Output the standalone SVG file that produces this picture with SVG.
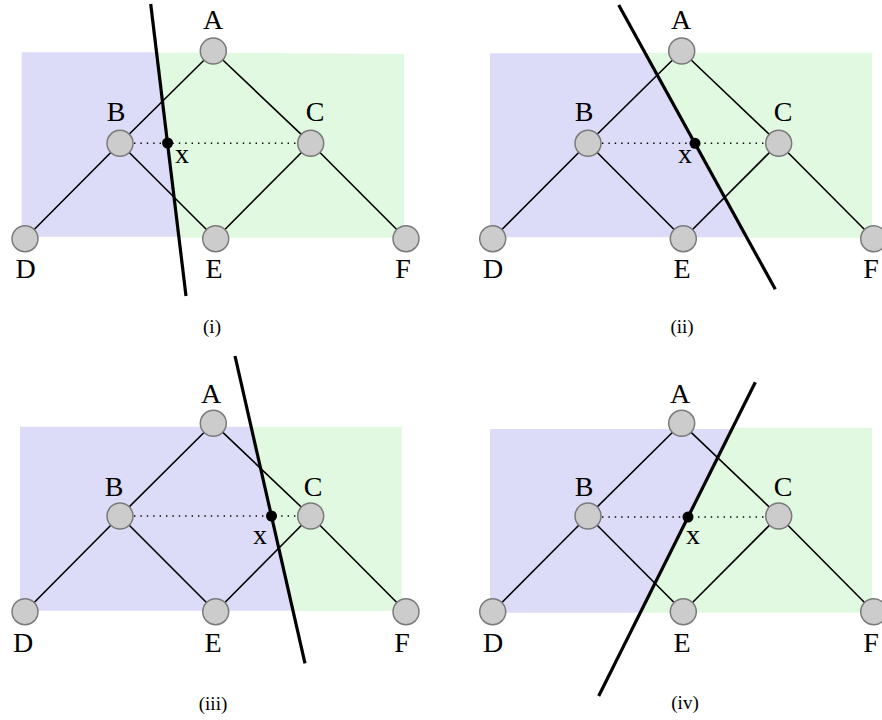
<svg xmlns="http://www.w3.org/2000/svg" width="882" height="720" viewBox="0 0 882 720">
<style>
.bg{fill:#ffffff}
.blue{fill:#dcdcf8}
.green{fill:#e1f9e1}
.edge{stroke:#000;stroke-width:1.6;fill:none}
.dot{stroke:#000;stroke-width:1.4;stroke-dasharray:1.4 5;fill:none}
.cut{stroke:#000;stroke-width:3.2;fill:none;stroke-linecap:butt}
.node circle{fill:#cccccc;stroke:#7a7a7a;stroke-width:1.5}
.lbl{font-family:"Liberation Serif","Times New Roman",serif;font-size:28px;fill:#000;text-anchor:middle}
.cap{font-family:"Liberation Serif","Times New Roman",serif;font-size:19px;fill:#000;text-anchor:middle}
.xp{fill:#000}
</style>
<rect class="bg" x="0" y="0" width="882" height="720"/>

<!-- Panel (i) -->
<g id="panel-i">
  <polygon class="blue" points="21.7,52.3 156.5,52.3 178.9,236.7 21.7,236.7"/>
  <polygon class="green" points="156.5,52.5 404,54 404,237.7 178.9,237.7"/>
  <g id="connectors-i">
    <line class="edge" x1="213.3" y1="51" x2="120" y2="143.3"/>
    <line class="edge" x1="213.3" y1="51" x2="310.7" y2="143.3"/>
    <line class="edge" x1="120" y1="143.3" x2="25" y2="238.7"/>
    <line class="edge" x1="120" y1="143.3" x2="215.7" y2="238.7"/>
    <line class="edge" x1="310.7" y1="143.3" x2="215.7" y2="238.7"/>
    <line class="edge" x1="310.7" y1="143.3" x2="406" y2="238.7"/>
    <line class="dot" x1="134" y1="143.3" x2="297" y2="143.3"/>
    <line class="cut" x1="150.7" y1="4" x2="186" y2="296"/>
  </g>
  <g id="i-A" class="node"><circle cx="213.3" cy="51" r="13"/><text class="lbl" x="213" y="28.5">A</text></g>
  <g id="i-B" class="node"><circle cx="120" cy="143.3" r="13"/><text class="lbl" x="116" y="121">B</text></g>
  <g id="i-C" class="node"><circle cx="310.7" cy="143.3" r="13"/><text class="lbl" x="315" y="121">C</text></g>
  <g id="i-D" class="node"><circle cx="25" cy="238.7" r="13"/><text class="lbl" x="25.5" y="277.5">D</text></g>
  <g id="i-E" class="node"><circle cx="215.7" cy="238.7" r="13"/><text class="lbl" x="214" y="277.5">E</text></g>
  <g id="i-F" class="node"><circle cx="406" cy="238.7" r="13"/><text class="lbl" x="403" y="277.5">F</text></g>
  <g id="i-x"><circle class="xp" cx="167.6" cy="143" r="5.5"/><text class="lbl" x="182" y="163">x</text></g>
  <text class="cap" x="212" y="333">(i)</text>
</g>

<!-- Panel (ii) -->
<g id="panel-ii">
  <polygon class="blue" points="490,53.3 645.1,53.3 746.7,237.3 490,237.3"/>
  <polygon class="green" points="645.1,52.7 872,52.7 872,237.7 746.7,237.7"/>
  <g id="connectors-ii">
    <line class="edge" x1="681.7" y1="51" x2="588" y2="143.3"/>
    <line class="edge" x1="681.7" y1="51" x2="778.7" y2="143.3"/>
    <line class="edge" x1="588" y1="143.3" x2="492.7" y2="238.7"/>
    <line class="edge" x1="588" y1="143.3" x2="683.3" y2="238.7"/>
    <line class="edge" x1="778.7" y1="143.3" x2="683.3" y2="238.7"/>
    <line class="edge" x1="778.7" y1="143.3" x2="873.7" y2="238.7"/>
    <line class="dot" x1="602" y1="143.3" x2="765" y2="143.3"/>
    <line class="cut" x1="618.7" y1="5" x2="775.3" y2="289.3"/>
  </g>
  <g id="ii-A" class="node"><circle cx="681.7" cy="51" r="13"/><text class="lbl" x="681" y="28.5">A</text></g>
  <g id="ii-B" class="node"><circle cx="588" cy="143.3" r="13"/><text class="lbl" x="584" y="121">B</text></g>
  <g id="ii-C" class="node"><circle cx="778.7" cy="143.3" r="13"/><text class="lbl" x="783" y="121">C</text></g>
  <g id="ii-D" class="node"><circle cx="492.7" cy="238.7" r="13"/><text class="lbl" x="493" y="277.5">D</text></g>
  <g id="ii-E" class="node"><circle cx="683.3" cy="238.7" r="13"/><text class="lbl" x="682" y="277.5">E</text></g>
  <g id="ii-F" class="node"><circle cx="873.7" cy="238.7" r="13"/><text class="lbl" x="871" y="277.5">F</text></g>
  <g id="ii-x"><circle class="xp" cx="695" cy="143.3" r="5.5"/><text class="lbl" x="685" y="163">x</text></g>
  <text class="cap" x="682" y="333">(ii)</text>
</g>

<!-- Panel (iii) -->
<g id="panel-iii">
  <polygon class="blue" points="20,426.7 251.1,426.7 293,610.7 20,610.7"/>
  <polygon class="green" points="251.1,426.7 401.7,426.7 401.7,611 293,611"/>
  <g id="connectors-iii">
    <line class="edge" x1="213.3" y1="423.3" x2="120" y2="516"/>
    <line class="edge" x1="213.3" y1="423.3" x2="310.7" y2="516"/>
    <line class="edge" x1="120" y1="516" x2="25" y2="611.7"/>
    <line class="edge" x1="120" y1="516" x2="215.7" y2="611.7"/>
    <line class="edge" x1="310.7" y1="516" x2="215.7" y2="611.7"/>
    <line class="edge" x1="310.7" y1="516" x2="406" y2="611.7"/>
    <line class="dot" x1="134" y1="516" x2="297" y2="516"/>
    <line class="cut" x1="235" y1="356" x2="305" y2="663.3"/>
  </g>
  <g id="iii-A" class="node"><circle cx="213.3" cy="423.3" r="13"/><text class="lbl" x="211" y="403">A</text></g>
  <g id="iii-B" class="node"><circle cx="120" cy="516" r="13"/><text class="lbl" x="114" y="496">B</text></g>
  <g id="iii-C" class="node"><circle cx="310.7" cy="516" r="13"/><text class="lbl" x="313" y="496">C</text></g>
  <g id="iii-D" class="node"><circle cx="25" cy="611.7" r="13"/><text class="lbl" x="23" y="651.5">D</text></g>
  <g id="iii-E" class="node"><circle cx="215.7" cy="611.7" r="13"/><text class="lbl" x="213" y="651.5">E</text></g>
  <g id="iii-F" class="node"><circle cx="406" cy="611.7" r="13"/><text class="lbl" x="402" y="651.5">F</text></g>
  <g id="iii-x"><circle class="xp" cx="271.5" cy="516" r="5.5"/><text class="lbl" x="260" y="544">x</text></g>
  <text class="cap" x="213" y="710">(iii)</text>
</g>

<!-- Panel (iv) -->
<g id="panel-iv">
  <polygon class="blue" points="490,429 732,429 640.3,612.7 490,612.7"/>
  <polygon class="green" points="732.6,427.7 872,427.7 872,612.7 640.3,612.7"/>
  <g id="connectors-iv">
    <line class="edge" x1="681.7" y1="423.3" x2="588" y2="516"/>
    <line class="edge" x1="681.7" y1="423.3" x2="778.7" y2="516"/>
    <line class="edge" x1="588" y1="516" x2="492.7" y2="611.7"/>
    <line class="edge" x1="588" y1="516" x2="683.3" y2="611.7"/>
    <line class="edge" x1="778.7" y1="516" x2="683.3" y2="611.7"/>
    <line class="edge" x1="778.7" y1="516" x2="873.7" y2="611.7"/>
    <line class="dot" x1="602" y1="517" x2="765" y2="517"/>
    <line class="cut" x1="755.3" y1="382.3" x2="598.7" y2="696"/>
  </g>
  <g id="iv-A" class="node"><circle cx="681.7" cy="423.3" r="13"/><text class="lbl" x="680" y="403">A</text></g>
  <g id="iv-B" class="node"><circle cx="588" cy="516" r="13"/><text class="lbl" x="584" y="496">B</text></g>
  <g id="iv-C" class="node"><circle cx="778.7" cy="516" r="13"/><text class="lbl" x="783" y="496">C</text></g>
  <g id="iv-D" class="node"><circle cx="492.7" cy="611.7" r="13"/><text class="lbl" x="493" y="651.5">D</text></g>
  <g id="iv-E" class="node"><circle cx="683.3" cy="611.7" r="13"/><text class="lbl" x="682" y="651.5">E</text></g>
  <g id="iv-F" class="node"><circle cx="873.7" cy="611.7" r="13"/><text class="lbl" x="871" y="651.5">F</text></g>
  <g id="iv-x"><circle class="xp" cx="688" cy="517" r="5.5"/><text class="lbl" x="693" y="544">x</text></g>
  <text class="cap" x="685" y="709">(iv)</text>
</g>
</svg>
